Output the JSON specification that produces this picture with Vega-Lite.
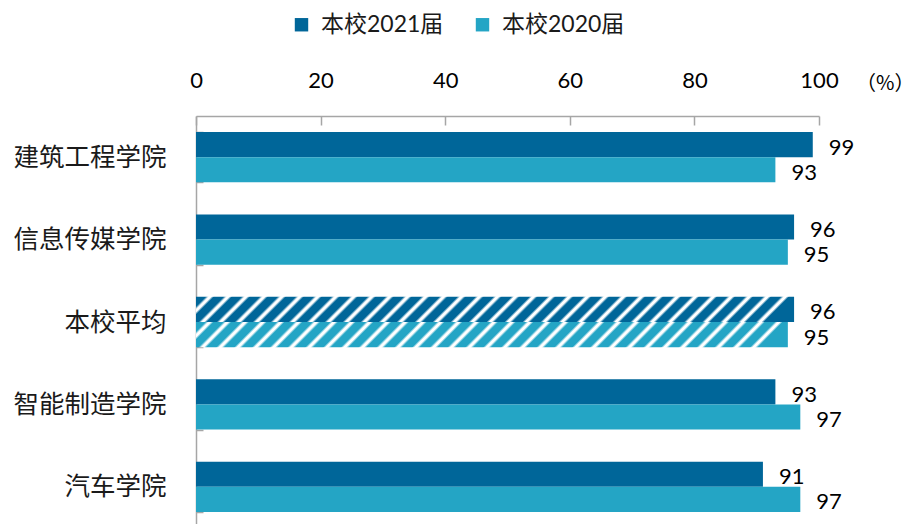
{
  "$schema": "https://vega.github.io/schema/vega-lite/v6.json",
  "width": 623,
  "height": 412,
  "autosize": {"type": "none"},
  "padding": {"left": 196, "top": 116, "right": 98, "bottom": 0},
  "background": "white",
  "config": {"view": {"stroke": null}},
  "data": {"values": [
    {"college": "建筑工程学院", "series": "本校2021届", "value": 99},
    {"college": "建筑工程学院", "series": "本校2020届", "value": 93},
    {"college": "信息传媒学院", "series": "本校2021届", "value": 96},
    {"college": "信息传媒学院", "series": "本校2020届", "value": 95},
    {"college": "本校平均", "series": "本校2021届", "value": 96},
    {"college": "本校平均", "series": "本校2020届", "value": 95},
    {"college": "智能制造学院", "series": "本校2021届", "value": 93},
    {"college": "智能制造学院", "series": "本校2020届", "value": 97},
    {"college": "汽车学院", "series": "本校2021届", "value": 91},
    {"college": "汽车学院", "series": "本校2020届", "value": 97}
  ]},
  "encoding": {
    "y": {
      "field": "college", "type": "nominal",
      "sort": ["建筑工程学院", "信息传媒学院", "本校平均", "智能制造学院", "汽车学院"],
      "scale": {"paddingInner": 0.39, "paddingOuter": 0.195},
      "axis": {
        "title": null, "domainColor": "#A6A6A6", "domainWidth": 1.5,
        "tickColor": "#A6A6A6", "tickWidth": 1.5, "tickSize": -7, "tickBand": "extent",
        "labelPadding": 37, "labelFont": "Noto Sans CJK SC", "labelFontSize": 25.5,
        "labelColor": "#1a1a1a", "grid": false
      }
    },
    "yOffset": {
      "field": "series", "type": "nominal",
      "sort": ["本校2021届", "本校2020届"],
      "scale": {"domain": ["本校2021届", "本校2020届"], "paddingInner": 0, "paddingOuter": 0}
    },
    "x": {
      "field": "value", "type": "quantitative",
      "scale": {"domain": [0, 100], "nice": false},
      "axis": {
        "orient": "top", "values": [0, 20, 40, 60, 80, 100], "grid": false,
        "domainColor": "#A6A6A6", "domainWidth": 1.5, "tickColor": "#A6A6A6", "tickWidth": 1.5,
        "tickSize": -9, "labelPadding": 33, "labelFlush": false,
        "labelFont": "Lato", "labelFontSize": 22, "labelColor": "#000000",
        "title": "（%）", "titleX": 718, "titleY": -33, "titleAngle": 0,
        "titleAlign": "right", "titleBaseline": "middle",
        "titleFont": "Noto Sans CJK SC", "titleFontSize": 20, "titleFontWeight": "normal", "titleColor": "#000000"
      }
    }
  },
  "layer": [
    {
      "transform": [{"filter": "datum.college !== '本校平均'"}],
      "mark": {"type": "bar"},
      "encoding": {
        "color": {
          "field": "series", "type": "nominal",
          "scale": {"domain": ["本校2021届", "本校2020届"], "range": ["#006699", "#24A5C5"]},
          "legend": {
            "orient": "none", "direction": "horizontal", "legendX": 94, "legendY": -103,
            "title": null, "padding": 0, "symbolType": "square", "symbolSize": 180,
            "symbolStrokeWidth": 0, "labelFont": "Lato, Noto Sans CJK SC", "labelFontSize": 23,
            "labelColor": "#1a1a1a", "labelOffset": 8, "columnPadding": 27
          }
        }
      }
    },
    {
      "transform": [{"filter": "datum.college === '本校平均' && datum.series === '本校2021届'"}],
      "mark": {"type": "bar", "fill": {"gradient": "linear", "x1": 0, "y1": 0, "x2": 1, "y2": 0.042, "stops": [
        {"offset": 0, "color": "#006699"}, {"offset": 0.016, "color": "#006699"}, {"offset": 0.021, "color": "#ffffff"}, {"offset": 0.025, "color": "#ffffff"},
        {"offset": 0.03, "color": "#006699"}, {"offset": 0.046, "color": "#006699"}, {"offset": 0.051, "color": "#ffffff"}, {"offset": 0.055, "color": "#ffffff"},
        {"offset": 0.06, "color": "#006699"}, {"offset": 0.076, "color": "#006699"}, {"offset": 0.081, "color": "#ffffff"}, {"offset": 0.085, "color": "#ffffff"},
        {"offset": 0.09, "color": "#006699"}, {"offset": 0.106, "color": "#006699"}, {"offset": 0.111, "color": "#ffffff"}, {"offset": 0.115, "color": "#ffffff"},
        {"offset": 0.12, "color": "#006699"}, {"offset": 0.136, "color": "#006699"}, {"offset": 0.141, "color": "#ffffff"}, {"offset": 0.145, "color": "#ffffff"},
        {"offset": 0.15, "color": "#006699"}, {"offset": 0.166, "color": "#006699"}, {"offset": 0.171, "color": "#ffffff"}, {"offset": 0.175, "color": "#ffffff"},
        {"offset": 0.18, "color": "#006699"}, {"offset": 0.196, "color": "#006699"}, {"offset": 0.201, "color": "#ffffff"}, {"offset": 0.205, "color": "#ffffff"},
        {"offset": 0.21, "color": "#006699"}, {"offset": 0.226, "color": "#006699"}, {"offset": 0.231, "color": "#ffffff"}, {"offset": 0.235, "color": "#ffffff"},
        {"offset": 0.24, "color": "#006699"}, {"offset": 0.256, "color": "#006699"}, {"offset": 0.261, "color": "#ffffff"}, {"offset": 0.265, "color": "#ffffff"},
        {"offset": 0.27, "color": "#006699"}, {"offset": 0.286, "color": "#006699"}, {"offset": 0.291, "color": "#ffffff"}, {"offset": 0.295, "color": "#ffffff"},
        {"offset": 0.30, "color": "#006699"}, {"offset": 0.316, "color": "#006699"}, {"offset": 0.321, "color": "#ffffff"}, {"offset": 0.325, "color": "#ffffff"},
        {"offset": 0.33, "color": "#006699"}, {"offset": 0.346, "color": "#006699"}, {"offset": 0.351, "color": "#ffffff"}, {"offset": 0.355, "color": "#ffffff"},
        {"offset": 0.36, "color": "#006699"}, {"offset": 0.376, "color": "#006699"}, {"offset": 0.381, "color": "#ffffff"}, {"offset": 0.385, "color": "#ffffff"},
        {"offset": 0.39, "color": "#006699"}, {"offset": 0.406, "color": "#006699"}, {"offset": 0.411, "color": "#ffffff"}, {"offset": 0.415, "color": "#ffffff"},
        {"offset": 0.42, "color": "#006699"}, {"offset": 0.436, "color": "#006699"}, {"offset": 0.441, "color": "#ffffff"}, {"offset": 0.445, "color": "#ffffff"},
        {"offset": 0.45, "color": "#006699"}, {"offset": 0.466, "color": "#006699"}, {"offset": 0.471, "color": "#ffffff"}, {"offset": 0.475, "color": "#ffffff"},
        {"offset": 0.48, "color": "#006699"}, {"offset": 0.496, "color": "#006699"}, {"offset": 0.501, "color": "#ffffff"}, {"offset": 0.505, "color": "#ffffff"},
        {"offset": 0.51, "color": "#006699"}, {"offset": 0.526, "color": "#006699"}, {"offset": 0.531, "color": "#ffffff"}, {"offset": 0.535, "color": "#ffffff"},
        {"offset": 0.54, "color": "#006699"}, {"offset": 0.556, "color": "#006699"}, {"offset": 0.561, "color": "#ffffff"}, {"offset": 0.565, "color": "#ffffff"},
        {"offset": 0.57, "color": "#006699"}, {"offset": 0.586, "color": "#006699"}, {"offset": 0.591, "color": "#ffffff"}, {"offset": 0.595, "color": "#ffffff"},
        {"offset": 0.60, "color": "#006699"}, {"offset": 0.616, "color": "#006699"}, {"offset": 0.621, "color": "#ffffff"}, {"offset": 0.625, "color": "#ffffff"},
        {"offset": 0.63, "color": "#006699"}, {"offset": 0.646, "color": "#006699"}, {"offset": 0.651, "color": "#ffffff"}, {"offset": 0.655, "color": "#ffffff"},
        {"offset": 0.66, "color": "#006699"}, {"offset": 0.676, "color": "#006699"}, {"offset": 0.681, "color": "#ffffff"}, {"offset": 0.685, "color": "#ffffff"},
        {"offset": 0.69, "color": "#006699"}, {"offset": 0.706, "color": "#006699"}, {"offset": 0.711, "color": "#ffffff"}, {"offset": 0.715, "color": "#ffffff"},
        {"offset": 0.72, "color": "#006699"}, {"offset": 0.736, "color": "#006699"}, {"offset": 0.741, "color": "#ffffff"}, {"offset": 0.745, "color": "#ffffff"},
        {"offset": 0.75, "color": "#006699"}, {"offset": 0.766, "color": "#006699"}, {"offset": 0.771, "color": "#ffffff"}, {"offset": 0.775, "color": "#ffffff"},
        {"offset": 0.78, "color": "#006699"}, {"offset": 0.796, "color": "#006699"}, {"offset": 0.801, "color": "#ffffff"}, {"offset": 0.805, "color": "#ffffff"},
        {"offset": 0.81, "color": "#006699"}, {"offset": 0.826, "color": "#006699"}, {"offset": 0.831, "color": "#ffffff"}, {"offset": 0.835, "color": "#ffffff"},
        {"offset": 0.84, "color": "#006699"}, {"offset": 0.856, "color": "#006699"}, {"offset": 0.861, "color": "#ffffff"}, {"offset": 0.865, "color": "#ffffff"},
        {"offset": 0.87, "color": "#006699"}, {"offset": 0.886, "color": "#006699"}, {"offset": 0.891, "color": "#ffffff"}, {"offset": 0.895, "color": "#ffffff"},
        {"offset": 0.90, "color": "#006699"}, {"offset": 0.916, "color": "#006699"}, {"offset": 0.921, "color": "#ffffff"}, {"offset": 0.925, "color": "#ffffff"},
        {"offset": 0.93, "color": "#006699"}, {"offset": 0.946, "color": "#006699"}, {"offset": 0.951, "color": "#ffffff"}, {"offset": 0.955, "color": "#ffffff"},
        {"offset": 0.96, "color": "#006699"}, {"offset": 0.976, "color": "#006699"}, {"offset": 0.981, "color": "#ffffff"}, {"offset": 0.985, "color": "#ffffff"},
        {"offset": 0.99, "color": "#006699"}, {"offset": 1, "color": "#006699"}
      ]}}
    },
    {
      "transform": [{"filter": "datum.college === '本校平均' && datum.series === '本校2020届'"}],
      "mark": {"type": "bar", "fill": {"gradient": "linear", "x1": 0, "y1": 0, "x2": 1, "y2": 0.042, "stops": [
        {"offset": 0, "color": "#24A5C5"}, {"offset": 0.016, "color": "#24A5C5"}, {"offset": 0.021, "color": "#ffffff"}, {"offset": 0.025, "color": "#ffffff"},
        {"offset": 0.03, "color": "#24A5C5"}, {"offset": 0.046, "color": "#24A5C5"}, {"offset": 0.051, "color": "#ffffff"}, {"offset": 0.055, "color": "#ffffff"},
        {"offset": 0.06, "color": "#24A5C5"}, {"offset": 0.076, "color": "#24A5C5"}, {"offset": 0.081, "color": "#ffffff"}, {"offset": 0.085, "color": "#ffffff"},
        {"offset": 0.09, "color": "#24A5C5"}, {"offset": 0.106, "color": "#24A5C5"}, {"offset": 0.111, "color": "#ffffff"}, {"offset": 0.115, "color": "#ffffff"},
        {"offset": 0.12, "color": "#24A5C5"}, {"offset": 0.136, "color": "#24A5C5"}, {"offset": 0.141, "color": "#ffffff"}, {"offset": 0.145, "color": "#ffffff"},
        {"offset": 0.15, "color": "#24A5C5"}, {"offset": 0.166, "color": "#24A5C5"}, {"offset": 0.171, "color": "#ffffff"}, {"offset": 0.175, "color": "#ffffff"},
        {"offset": 0.18, "color": "#24A5C5"}, {"offset": 0.196, "color": "#24A5C5"}, {"offset": 0.201, "color": "#ffffff"}, {"offset": 0.205, "color": "#ffffff"},
        {"offset": 0.21, "color": "#24A5C5"}, {"offset": 0.226, "color": "#24A5C5"}, {"offset": 0.231, "color": "#ffffff"}, {"offset": 0.235, "color": "#ffffff"},
        {"offset": 0.24, "color": "#24A5C5"}, {"offset": 0.256, "color": "#24A5C5"}, {"offset": 0.261, "color": "#ffffff"}, {"offset": 0.265, "color": "#ffffff"},
        {"offset": 0.27, "color": "#24A5C5"}, {"offset": 0.286, "color": "#24A5C5"}, {"offset": 0.291, "color": "#ffffff"}, {"offset": 0.295, "color": "#ffffff"},
        {"offset": 0.30, "color": "#24A5C5"}, {"offset": 0.316, "color": "#24A5C5"}, {"offset": 0.321, "color": "#ffffff"}, {"offset": 0.325, "color": "#ffffff"},
        {"offset": 0.33, "color": "#24A5C5"}, {"offset": 0.346, "color": "#24A5C5"}, {"offset": 0.351, "color": "#ffffff"}, {"offset": 0.355, "color": "#ffffff"},
        {"offset": 0.36, "color": "#24A5C5"}, {"offset": 0.376, "color": "#24A5C5"}, {"offset": 0.381, "color": "#ffffff"}, {"offset": 0.385, "color": "#ffffff"},
        {"offset": 0.39, "color": "#24A5C5"}, {"offset": 0.406, "color": "#24A5C5"}, {"offset": 0.411, "color": "#ffffff"}, {"offset": 0.415, "color": "#ffffff"},
        {"offset": 0.42, "color": "#24A5C5"}, {"offset": 0.436, "color": "#24A5C5"}, {"offset": 0.441, "color": "#ffffff"}, {"offset": 0.445, "color": "#ffffff"},
        {"offset": 0.45, "color": "#24A5C5"}, {"offset": 0.466, "color": "#24A5C5"}, {"offset": 0.471, "color": "#ffffff"}, {"offset": 0.475, "color": "#ffffff"},
        {"offset": 0.48, "color": "#24A5C5"}, {"offset": 0.496, "color": "#24A5C5"}, {"offset": 0.501, "color": "#ffffff"}, {"offset": 0.505, "color": "#ffffff"},
        {"offset": 0.51, "color": "#24A5C5"}, {"offset": 0.526, "color": "#24A5C5"}, {"offset": 0.531, "color": "#ffffff"}, {"offset": 0.535, "color": "#ffffff"},
        {"offset": 0.54, "color": "#24A5C5"}, {"offset": 0.556, "color": "#24A5C5"}, {"offset": 0.561, "color": "#ffffff"}, {"offset": 0.565, "color": "#ffffff"},
        {"offset": 0.57, "color": "#24A5C5"}, {"offset": 0.586, "color": "#24A5C5"}, {"offset": 0.591, "color": "#ffffff"}, {"offset": 0.595, "color": "#ffffff"},
        {"offset": 0.60, "color": "#24A5C5"}, {"offset": 0.616, "color": "#24A5C5"}, {"offset": 0.621, "color": "#ffffff"}, {"offset": 0.625, "color": "#ffffff"},
        {"offset": 0.63, "color": "#24A5C5"}, {"offset": 0.646, "color": "#24A5C5"}, {"offset": 0.651, "color": "#ffffff"}, {"offset": 0.655, "color": "#ffffff"},
        {"offset": 0.66, "color": "#24A5C5"}, {"offset": 0.676, "color": "#24A5C5"}, {"offset": 0.681, "color": "#ffffff"}, {"offset": 0.685, "color": "#ffffff"},
        {"offset": 0.69, "color": "#24A5C5"}, {"offset": 0.706, "color": "#24A5C5"}, {"offset": 0.711, "color": "#ffffff"}, {"offset": 0.715, "color": "#ffffff"},
        {"offset": 0.72, "color": "#24A5C5"}, {"offset": 0.736, "color": "#24A5C5"}, {"offset": 0.741, "color": "#ffffff"}, {"offset": 0.745, "color": "#ffffff"},
        {"offset": 0.75, "color": "#24A5C5"}, {"offset": 0.766, "color": "#24A5C5"}, {"offset": 0.771, "color": "#ffffff"}, {"offset": 0.775, "color": "#ffffff"},
        {"offset": 0.78, "color": "#24A5C5"}, {"offset": 0.796, "color": "#24A5C5"}, {"offset": 0.801, "color": "#ffffff"}, {"offset": 0.805, "color": "#ffffff"},
        {"offset": 0.81, "color": "#24A5C5"}, {"offset": 0.826, "color": "#24A5C5"}, {"offset": 0.831, "color": "#ffffff"}, {"offset": 0.835, "color": "#ffffff"},
        {"offset": 0.84, "color": "#24A5C5"}, {"offset": 0.856, "color": "#24A5C5"}, {"offset": 0.861, "color": "#ffffff"}, {"offset": 0.865, "color": "#ffffff"},
        {"offset": 0.87, "color": "#24A5C5"}, {"offset": 0.886, "color": "#24A5C5"}, {"offset": 0.891, "color": "#ffffff"}, {"offset": 0.895, "color": "#ffffff"},
        {"offset": 0.90, "color": "#24A5C5"}, {"offset": 0.916, "color": "#24A5C5"}, {"offset": 0.921, "color": "#ffffff"}, {"offset": 0.925, "color": "#ffffff"},
        {"offset": 0.93, "color": "#24A5C5"}, {"offset": 0.946, "color": "#24A5C5"}, {"offset": 0.951, "color": "#ffffff"}, {"offset": 0.955, "color": "#ffffff"},
        {"offset": 0.96, "color": "#24A5C5"}, {"offset": 0.976, "color": "#24A5C5"}, {"offset": 0.981, "color": "#ffffff"}, {"offset": 0.985, "color": "#ffffff"},
        {"offset": 0.99, "color": "#24A5C5"}, {"offset": 1, "color": "#24A5C5"}
      ]}}
    },
    {
      "mark": {"type": "text", "align": "left", "baseline": "middle", "dx": 16, "dy": 3, "font": "Lato", "fontSize": 22, "color": "#000000"},
      "encoding": {"text": {"field": "value", "type": "quantitative"}}
    }
  ]
}
